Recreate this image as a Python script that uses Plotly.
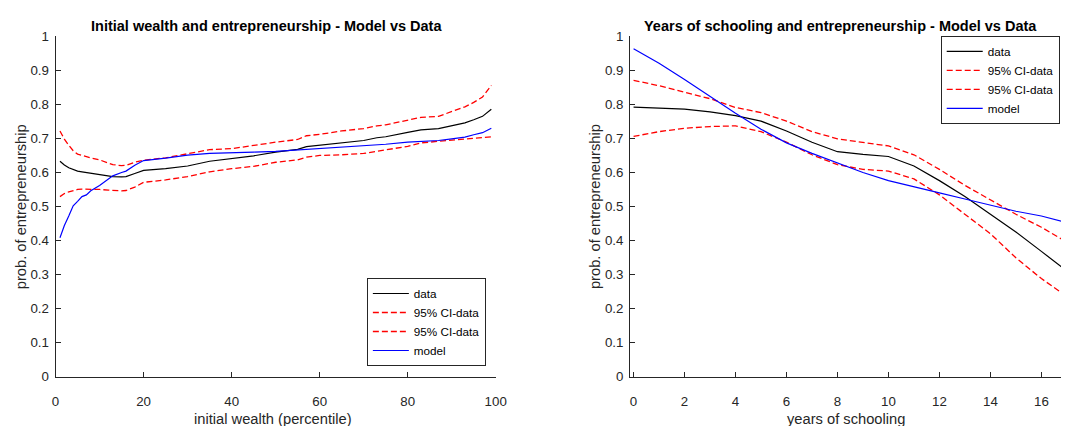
import plotly.graph_objects as go

# ---------------- data ----------------
wealth_pct = [1, 2, 3, 4, 5, 6, 7, 8, 10, 12, 13, 15, 16, 18, 20, 25, 30, 35, 40, 45,
              50, 55, 57, 60, 65, 70, 73, 75, 80, 83, 87, 90, 93, 95, 97, 99]
wealth_data = [.633, .622, .614, .608, .604, .602, .600, .598, .595, .590, .588, .587, .588, .597,
               .606, .611, .619, .633, .640, .649, .660, .668, .676, .680, .687, .694, .702, .705,
               .718, .725, .729, .738, .746, .755, .765, .786]
wealth_ci_hi = [.722, .698, .680, .664, .654, .650, .647, .643, .637, .627, .623, .620, .621, .630,
                .636, .643, .656, .667, .670, .680, .689, .697, .708, .712, .722, .729, .737, .740,
                .755, .762, .765, .779, .793, .806, .822, .856]
wealth_ci_lo = [.529, .538, .543, .547, .550, .551, .551, .551, .550, .548, .547, .546, .547, .557,
                .571, .578, .588, .602, .611, .618, .630, .637, .645, .650, .652, .656, .662, .666,
                .677, .687, .691, .695, .698, .701, .703, .705]
wealth_model = [.408, .444, .472, .502, .515, .529, .534, .546, .562, .579, .590, .600, .604, .621,
                .635, .642, .651, .656, .657, .660, .662, .666, .668, .670, .674, .678, .681, .683,
                .689, .691, .694, .699, .704, .711, .717, .730]

school_years = list(range(0, 18))
school_data = [.792, .790, .786, .778, .767, .751, .722, .689, .661, .653, .647, .619, .576, .529,
               .477, .425, .368, .310]
school_ci_hi = [.871, .855, .836, .817, .791, .776, .751, .720, .699, .689, .678, .652, .609, .562,
                .519, .477, .439, .395]
school_ci_lo = [.706, .720, .730, .735, .737, .720, .689, .652, .623, .609, .604, .581, .534, .477,
                .420, .349, .288, .235]
school_model = [.964, .921, .873, .823, .774, .727, .687, .656, .628, .600, .576, .557, .540, .522,
                .505, .486, .472, .452]

series_names = ["data", "95% CI-data", "95% CI-data", "model"]
titles = ["Initial wealth and entrepreneurship - Model vs Data",
          "Years of schooling and entrepreneurship - Model vs Data"]
xlabels = ["initial wealth (percentile)", "years of schooling"]
ylabel = "prob. of entrepreneurship"
y_ticks = [0, 0.1, 0.2, 0.3, 0.4, 0.5, 0.6, 0.7, 0.8, 0.9, 1]
wealth_ticks = [0, 20, 40, 60, 80, 100]
school_ticks = [0, 2, 4, 6, 8, 10, 12, 14, 16]

# ---------------- figure ----------------
W, H = 1072, 426
FONT = "Liberation Sans, Arial, sans-serif"
AX = "#262626"

fig = go.Figure()

styles = [dict(color="#000000", width=1.2),
          dict(color="#FF0000", width=1.3, dash="6px,3px"),
          dict(color="#FF0000", width=1.3, dash="6px,3px"),
          dict(color="#0000FF", width=1.2)]

left_series = [wealth_data, wealth_ci_hi, wealth_ci_lo, wealth_model]
right_series = [school_data, school_ci_hi, school_ci_lo, school_model]

for name, ys, st in zip(series_names, left_series, styles):
    fig.add_trace(go.Scatter(x=wealth_pct, y=ys, mode="lines", name=name, line=st,
                             xaxis="x", yaxis="y", legend="legend"))
for name, ys, st in zip(series_names, right_series, styles):
    fig.add_trace(go.Scatter(x=school_years, y=ys, mode="lines", name=name, line=st,
                             xaxis="x2", yaxis="y2", legend="legend2"))

# pixel geometry
L0, L1 = 52.3, 498.7
R0 = 635.0
TOP, BOT = 30.5, 383.0
px_per_year = 25.85
x0_tick = 638.5
r_min = -(x0_tick - R0) / px_per_year
r_max = (W - x0_tick) / px_per_year

ydom = [(H - BOT) / H, (H - TOP) / H]

axis_common = dict(showline=True, linecolor=AX, linewidth=1, ticks="inside", ticklen=5,
                   tickcolor=AX, tickwidth=1, showgrid=False, zeroline=False, mirror=False,
                   tickfont=dict(family=FONT, size=13.3, color=AX), fixedrange=True)
xaxis_extra = dict(ticklabelstandoff=13)
yaxis_extra = dict(ticklabelstandoff=3)

legend_common = dict(yanchor="middle", bgcolor="white", bordercolor=AX,
                     borderwidth=1, itemwidth=36,
                     font=dict(family=FONT, size=11.7, color="#000000"))

fig.update_layout(
    width=W, height=H, margin=dict(l=0, r=0, t=0, b=0),
    paper_bgcolor="white", plot_bgcolor="white",
    xaxis=dict(domain=[L0 / W, L1 / W], range=[0, 100], tickvals=wealth_ticks, anchor="y",
               **axis_common, **xaxis_extra),
    yaxis=dict(domain=ydom, range=[0, 1], tickvals=y_ticks, anchor="x",
               **axis_common, **yaxis_extra),
    xaxis2=dict(domain=[R0 / W, 1.0], range=[r_min, r_max], tickvals=school_ticks, anchor="y2",
                **axis_common, **xaxis_extra),
    yaxis2=dict(domain=ydom, range=[0, 1], tickvals=y_ticks, anchor="x2",
                **axis_common, **yaxis_extra),
    legend=dict(x=488.7 / W, xanchor="right", y=(H - 326.5) / H, **legend_common),
    legend2=dict(x=1070.7 / W, xanchor="right", y=(H - 75.5) / H, **legend_common),
    showlegend=True,
)

ann = []
# titles
for cx, t in zip([266.7, 848.8], titles):
    ann.append(dict(text="<b>" + t + "</b>", x=cx / W, y=(H - 20) / H, xref="paper", yref="paper",
                    xanchor="center", yanchor="middle", showarrow=False,
                    font=dict(family=FONT, size=14.5, color="#000000")))
# x labels
for cx, t in zip([273, 854], xlabels):
    ann.append(dict(text=t, x=cx / W, y=(H - 427) / H, xref="paper", yref="paper",
                    xanchor="center", yanchor="middle", showarrow=False,
                    font=dict(family=FONT, size=14.7, color=AX)))
# y labels
for cx in [18, 600]:
    ann.append(dict(text=ylabel, x=cx / W, y=(H - (TOP + BOT) / 2) / H, xref="paper", yref="paper",
                    xanchor="center", yanchor="middle", showarrow=False, textangle=-90,
                    font=dict(family=FONT, size=14.7, color=AX)))
fig.update_layout(annotations=ann)

fig.write_html("out.html", config={"displayModeBar": False})
